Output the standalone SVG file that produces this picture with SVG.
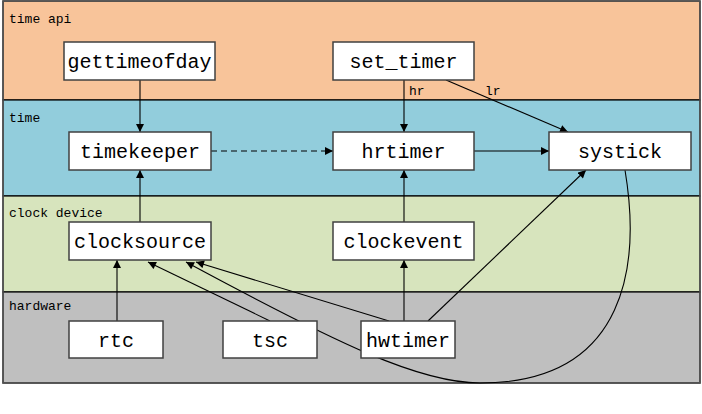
<svg xmlns="http://www.w3.org/2000/svg" width="702" height="414" viewBox="0 0 702 414">
<style>
.band{stroke:#000;stroke-width:1.2}
.blabel{font-family:"Liberation Mono",monospace;font-size:13px;fill:#000}
.node rect{fill:#fff;stroke:#404040;stroke-width:1.5}
.node text{font-family:"Liberation Mono",monospace;font-size:20px;fill:#000;text-anchor:middle}
.conn{fill:none;stroke:#000;stroke-width:1.1}
.elabel{font-family:"Liberation Mono",monospace;font-size:13px;fill:#000}
</style>
<defs>
<marker id="arr" viewBox="0 0 10 10" refX="10" refY="5" markerUnits="userSpaceOnUse" markerWidth="9" markerHeight="8" orient="auto">
<path d="M0,0 L10,5 L0,10 z" fill="#000"/>
</marker>
</defs>
<rect width="702" height="414" fill="#fff"/>
<g id="bands">
<rect x="3" y="1" width="697" height="99" fill="#F8C49A" class="band"/>
<rect x="3" y="100" width="697" height="96" fill="#92CDDC" class="band"/>
<rect x="3" y="196" width="697" height="96" fill="#D7E4BD" class="band"/>
<rect x="3" y="292" width="697" height="91" fill="#BFBFBF" class="band"/>
<rect x="3" y="1" width="697" height="382" fill="none" stroke="#555" stroke-width="1.5"/>
<text class="blabel" x="9" y="23">time api</text>
<text class="blabel" x="9" y="122">time</text>
<text class="blabel" x="9" y="217">clock device</text>
<text class="blabel" x="9" y="310">hardware</text>
</g>
<g id="connectors">
<path class="conn" d="M140,80 L140,132" marker-end="url(#arr)"/>
<path class="conn" d="M404,80 L404,132" marker-end="url(#arr)"/>
<path class="conn" d="M446,80 L568,132" marker-end="url(#arr)"/>
<path class="conn" d="M211,151 L333,151" stroke-dasharray="6,4" marker-end="url(#arr)"/>
<path class="conn" d="M474,151 L549,151" marker-end="url(#arr)"/>
<path class="conn" d="M140,222 L140,170" marker-end="url(#arr)"/>
<path class="conn" d="M404,222 L404,170" marker-end="url(#arr)"/>
<path class="conn" d="M404,321 L404,260" marker-end="url(#arr)"/>
<path class="conn" d="M117,321 L117,260" marker-end="url(#arr)"/>
<path class="conn" d="M270,321 L148,262" marker-end="url(#arr)"/>
<path class="conn" d="M389,321 L196,262" marker-end="url(#arr)"/>
<path class="conn" d="M428,321 L586,170" marker-end="url(#arr)"/>
<path class="conn" d="M625,170 C640,260 630,383 480,383 C420,383 340,345 186,262" marker-end="url(#arr)"/>
<text class="elabel" x="409" y="95">hr</text>
<text class="elabel" x="485" y="95">lr</text>
</g>
<g id="gettimeofday" class="node"><rect x="64" y="42" width="151" height="38"/><text x="139.5" y="68">gettimeofday</text></g>
<g id="set_timer" class="node"><rect x="333" y="42" width="141" height="38"/><text x="403.5" y="68">set_timer</text></g>
<g id="timekeeper" class="node"><rect x="69" y="132" width="142" height="38"/><text x="140" y="158">timekeeper</text></g>
<g id="hrtimer" class="node"><rect x="333" y="132" width="141" height="38"/><text x="403.5" y="158">hrtimer</text></g>
<g id="systick" class="node"><rect x="549" y="132" width="142" height="38"/><text x="620" y="158">systick</text></g>
<g id="clocksource" class="node"><rect x="69" y="222" width="142" height="38"/><text x="140" y="248">clocksource</text></g>
<g id="clockevent" class="node"><rect x="333" y="222" width="141" height="38"/><text x="403.5" y="248">clockevent</text></g>
<g id="rtc" class="node"><rect x="69" y="321" width="94" height="37"/><text x="116" y="347">rtc</text></g>
<g id="tsc" class="node"><rect x="223" y="321" width="94" height="37"/><text x="270" y="347">tsc</text></g>
<g id="hwtimer" class="node"><rect x="361" y="321" width="94" height="37"/><text x="408" y="347">hwtimer</text></g>
</svg>
